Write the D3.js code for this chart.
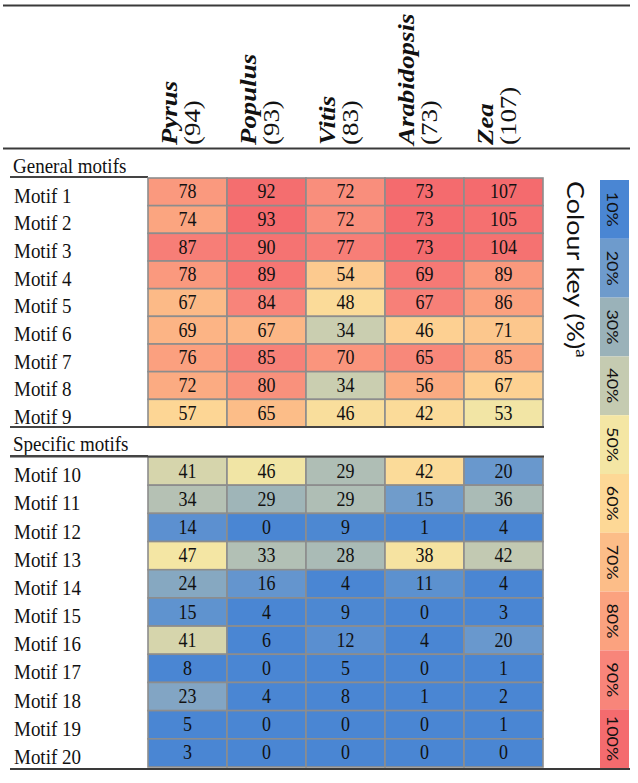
<!DOCTYPE html>
<html>
<head>
<meta charset="utf-8">
<script src="https://cdn.jsdelivr.net/npm/d3@7"></script>
<style>
  html, body { margin: 0; padding: 0; background: #fff; }
  svg { display: block; }
</style>
</head>
<body>
<svg id="chart" width="638" height="783"></svg>
<script>
const species = ["Pyrus", "Populus", "Vitis", "Arabidopsis", "Zea"];
const totals = [94, 93, 83, 73, 107];

const generalMotifs = ["Motif 1","Motif 2","Motif 3","Motif 4","Motif 5","Motif 6","Motif 7","Motif 8","Motif 9"];
const generalValues = [
  [78, 92, 72, 73, 107],
  [74, 93, 72, 73, 105],
  [87, 90, 77, 73, 104],
  [78, 89, 54, 69, 89],
  [67, 84, 48, 67, 86],
  [69, 67, 34, 46, 71],
  [76, 85, 70, 65, 85],
  [72, 80, 34, 56, 67],
  [57, 65, 46, 42, 53]
];

const specificMotifs = ["Motif 10","Motif 11","Motif 12","Motif 13","Motif 14","Motif 15","Motif 16","Motif 17","Motif 18","Motif 19","Motif 20"];
const specificValues = [
  [41, 46, 29, 42, 20],
  [34, 29, 29, 15, 36],
  [14, 0, 9, 1, 4],
  [47, 33, 28, 38, 42],
  [24, 16, 4, 11, 4],
  [15, 4, 9, 0, 3],
  [41, 6, 12, 4, 20],
  [8, 0, 5, 0, 1],
  [23, 4, 8, 1, 2],
  [5, 0, 0, 0, 1],
  [3, 0, 0, 0, 0]
];

const keySteps = [10, 20, 30, 40, 50, 60, 70, 80, 90, 100];
const keyLabels = ["10%","20%","30%","40%","50%","60%","70%","80%","90%","100%"];
const keyColors = ["#4a86d3","#6e9bcc","#9ab2b9","#c5cbb1","#f4e6a4","#fdd896","#fcbd88","#fba27f","#f8857a","#f46b6e"];

const svg = d3.select("#chart");
const serif = "'Liberation Serif', 'Times New Roman', serif";
const sans = "Lato, 'Open Sans', sans-serif";
const STRETCH = 1.12; // vertical stretch of the original picture

const color = d3.scaleLinear().domain(keySteps).range(keyColors).clamp(true);
const x = d3.scaleBand().domain(species).range([148, 543]);
const yGen = d3.scaleBand().domain(generalMotifs).range([178, 427]);
const ySpec = d3.scaleBand().domain(specificMotifs).range([457, 767]);
const yKey = d3.scaleBand().domain(keyLabels).range([180, 768]);

// horizontal rules
const line = (x1, x2, y, w, c) => svg.append("line")
  .attr("x1", x1).attr("x2", x2).attr("y1", y).attr("y2", y)
  .attr("stroke", c).attr("stroke-width", w);
line(3, 630, 5.5, 2, "#3a3a3a");
line(3, 630, 148.5, 2, "#3a3a3a");

// column headers
species.forEach((s, i) => {
  const cx = x(s) + x.bandwidth() / 2;
  const g = svg.append("g").attr("transform", `translate(${cx},145) rotate(-90) scale(${STRETCH},1)`);
  g.append("text").attr("x", 0).attr("y", -11)
    .attr("font-family", serif).attr("font-size", 24)
    .attr("font-weight", "bold").attr("font-style", "italic")
    .attr("fill", "#111").text(s);
  g.append("text").attr("x", 0).attr("y", 12)
    .attr("font-family", serif).attr("font-size", 24)
    .attr("fill", "#111").text(`(${totals[i]})`);
});

function drawBlock(motifs, values, y, title, titleY, lineY) {
  svg.append("text").attr("transform", `translate(13,${titleY}) scale(1,${STRETCH})`)
    .attr("font-family", serif).attr("font-size", 19).attr("fill", "#111").text(title);
  line(10, 148, lineY, 2, "#444");
  const rows = svg.append("g");
  motifs.forEach((m, r) => {
    rows.append("text")
      .attr("transform", `translate(14,${y(m) + y.bandwidth() - 3}) scale(1,${STRETCH})`)
      .attr("font-family", serif).attr("font-size", 19).attr("fill", "#111").text(m);
    species.forEach((s, c) => {
      const v = values[r][c];
      const pct = v / totals[c] * 100;
      rows.append("rect")
        .attr("x", x(s)).attr("y", y(m))
        .attr("width", x.bandwidth()).attr("height", y.bandwidth())
        .attr("fill", color(pct))
        .attr("stroke", "#8d8d8d").attr("stroke-width", 1.6);
      rows.append("text")
        .attr("transform", `translate(${x(s) + x.bandwidth() / 2},${y(m) + y.bandwidth() / 2 + 6.5}) scale(1,${STRETCH})`)
        .attr("text-anchor", "middle")
        .attr("font-family", serif).attr("font-size", 18).attr("fill", "#111").text(v);
    });
  });
}

drawBlock(generalMotifs, generalValues, yGen, "General motifs", 173, 177);
drawBlock(specificMotifs, specificValues, ySpec, "Specific motifs", 451, 456);

line(10, 544, 427, 2, "#444");
line(10, 544, 456.5, 2, "#444");
line(10, 630, 769, 2, "#3a3a3a");

// colour key
const key = svg.append("g");
keyLabels.forEach((k, i) => {
  key.append("rect").attr("x", 600).attr("y", yKey(k))
    .attr("width", 29).attr("height", yKey.bandwidth())
    .attr("fill", keyColors[i]);
  key.append("text")
    .attr("transform", `translate(607,${yKey(k) + yKey.bandwidth() / 2}) rotate(90) scale(${STRETCH},1)`)
    .attr("text-anchor", "middle")
    .attr("font-family", sans).attr("font-size", 16).attr("fill", "#111").text(k);
});
const title = svg.append("text")
  .attr("transform", `translate(567,181) rotate(90) scale(${STRETCH},1)`)
  .attr("font-family", sans).attr("font-size", 24).attr("fill", "#111");
title.append("tspan").text("Colour key (%)");
title.append("tspan").attr("font-size", 15).attr("dy", -9).text("a");
</script>
</body>
</html>
